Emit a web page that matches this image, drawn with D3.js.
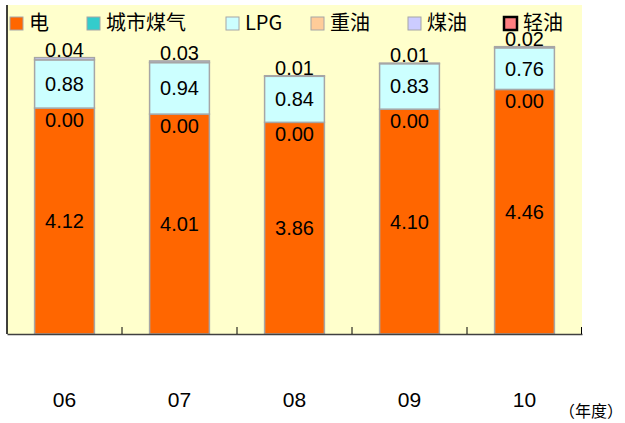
<!DOCTYPE html>
<html>
<head>
<meta charset="utf-8">
<script src="https://cdn.jsdelivr.net/npm/d3@7"></script>
<style>
  body { margin: 0; background: #fff; }
  svg { display: block; font-family: "Liberation Sans", Arial, "Noto Sans CJK SC", sans-serif; }
</style>
</head>
<body>
<script>
var years = ["06", "07", "08", "09", "10"];
var series_names = ["电", "城市煤气", "LPG", "重油", "煤油", "轻油"];
var series_colors = ["#ff6600", "#33cccc", "#ccffff", "#ffcc99", "#ccccff", "#ff8080"];
var electricity = [4.12, 4.01, 3.86, 4.10, 4.46];
var city_gas = [0.00, 0.00, 0.00, 0.00, 0.00];
var lpg = [0.88, 0.94, 0.84, 0.83, 0.76];
var heavy_oil = [0, 0, 0, 0, 0];
var kerosene = [0.04, 0.03, 0.01, 0.01, 0.02];
var light_oil = [0, 0, 0, 0, 0];
var y_max = 6;

var w = 625,
    h = 423,
    plot = {left: 7, top: 5, right: 582, bottom: 334};

var table = years.map(function(y, i){
  return {year: y, s0: electricity[i], s1: city_gas[i], s2: lpg[i],
          s3: heavy_oil[i], s4: kerosene[i], s5: light_oil[i]};
});
var keys = ["s0", "s1", "s2", "s3", "s4", "s5"];
var stacked = d3.stack().keys(keys)(table);

var svg = d3.select("body").append("svg").attr("width", w).attr("height", h);

var x = d3.scaleBand().domain(years).range([plot.left, plot.right]).paddingInner(0).paddingOuter(0);
var y = d3.scaleLinear().domain([0, y_max]).range([plot.bottom, plot.top]);
var bw = x.bandwidth() * 0.52;

svg.append("rect")
    .attr("x", plot.left).attr("y", plot.top)
    .attr("width", plot.right - plot.left).attr("height", plot.bottom - plot.top)
    .attr("fill", "#ffffcc");

// bars
stacked.forEach(function(layer, k){
  svg.append("g").selectAll("rect")
      .data(layer)
      .enter()
      .append("rect")
      .attr("x", function(d){ return x(d.data.year) + (x.bandwidth() - bw) / 2; })
      .attr("y", function(d){ return y(d[1]); })
      .attr("width", bw)
      .attr("height", function(d){ return y(d[0]) - y(d[1]); })
      .attr("fill", series_colors[k])
      .attr("stroke", function(d){ return d[1] - d[0] > 0 ? "#a6a6a6" : "none"; })
      .attr("stroke-width", 1.5);
});

// axes
svg.append("line")
    .attr("x1", plot.left).attr("x2", plot.left)
    .attr("y1", plot.top).attr("y2", plot.bottom)
    .attr("stroke", "#000").attr("stroke-width", 1.5);

var xAxis = d3.axisBottom(x).tickSize(0).tickFormat("");
svg.append("g")
    .attr("transform", "translate(0," + plot.bottom + ")")
    .call(xAxis)
    .call(function(g){ g.select(".domain").attr("stroke", "#404040").attr("stroke-width", 1.5); });

svg.append("g").selectAll("line")
    .data(years.slice(1).concat(["end"]))
    .enter()
    .append("line")
    .attr("x1", function(d){ return d === "end" ? plot.right - 0.5 : x(d); })
    .attr("x2", function(d){ return d === "end" ? plot.right - 0.5 : x(d); })
    .attr("y1", plot.bottom).attr("y2", plot.bottom - 7)
    .attr("stroke", "#000").attr("stroke-width", 1);

svg.append("g").selectAll("text")
    .data(years)
    .enter()
    .append("text")
    .attr("x", function(d){ return x(d) + x.bandwidth() / 2; })
    .attr("y", 407)
    .attr("text-anchor", "middle")
    .attr("font-size", "21px")
    .attr("fill", "#000")
    .text(function(d){ return d; });

svg.append("text")
    .attr("x", 623).attr("y", 417)
    .attr("text-anchor", "end")
    .attr("font-size", "16px")
    .attr("font-family", "Noto Sans CJK SC")
    .text("（年度）");

// value labels
function label(layerIndex, pos){
  svg.append("g").selectAll("text")
      .data(stacked[layerIndex])
      .enter()
      .append("text")
      .attr("x", function(d){ return x(d.data.year) + x.bandwidth() / 2; })
      .attr("y", pos)
      .attr("text-anchor", "middle")
      .attr("font-size", "20px")
      .attr("fill", "#000")
      .text(function(d){ return (d[1] - d[0]).toFixed(2); });
}
label(0, function(d){ return (y(d[0]) + y(d[1])) / 2 + 7; });
label(1, function(d){ return y(d[1]) + 19; });
label(2, function(d){ return (y(d[0]) + y(d[1])) / 2 + 7; });
label(4, function(d){ return y(d[1]) - 1; });

// legend
var legend_x = [10, 87, 226, 311, 408, 504];
var lg = svg.append("g").selectAll("g")
    .data(series_names)
    .enter()
    .append("g")
    .attr("transform", function(d, i){ return "translate(" + legend_x[i] + ",17)"; });

lg.append("rect")
    .attr("width", 13).attr("height", 13)
    .attr("fill", function(d, i){ return series_colors[i]; })
    .attr("stroke", function(d, i){ return i === 5 ? "#000" : "#a6a6a6"; })
    .attr("stroke-width", function(d, i){ return i === 5 ? 2.5 : 1; });

lg.append("text")
    .attr("x", 19).attr("y", 13)
    .attr("font-size", "20px")
    .attr("font-family", "Noto Sans CJK SC")
    .attr("fill", "#000")
    .text(function(d){ return d; });
</script>
</body>
</html>
